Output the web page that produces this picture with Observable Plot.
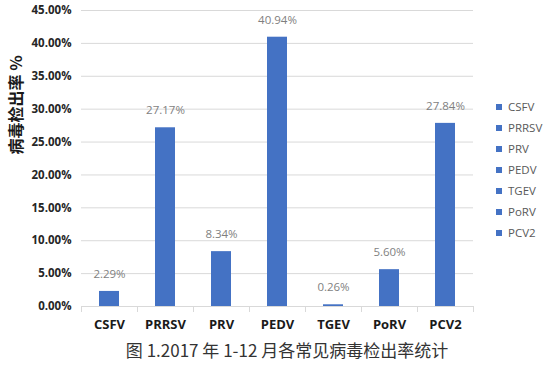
<!DOCTYPE html>
<html>
<head>
<meta charset="utf-8">
<script src="https://cdn.jsdelivr.net/npm/d3@7"></script>
<script src="https://cdn.jsdelivr.net/npm/@observablehq/plot@0.6"></script>
<style>
  html, body { margin: 0; padding: 0; background: #fff; }
  #wrap { position: relative; width: 550px; height: 368px; overflow: hidden; }
  #caption { position: absolute; left: 0; width: 574px; top: 338px; text-align: center;
    font-family: "Noto Sans CJK SC", sans-serif; font-size: 17px; color: #333; line-height: 24px; }
  #legend { position: absolute; left: 496px; top: 99px; font-family: "Open Sans", sans-serif;
    font-size: 11.5px; color: #595959; }
  #legend div { height: 21px; line-height: 16px; white-space: nowrap; }
  #legend span.sw { display: inline-block; width: 6px; height: 6px; background: #4472C4; margin-right: 6px; vertical-align: 1px; }
</style>
</head>
<body>
<div id="wrap"><div id="chart"></div><div id="legend"></div><div id="caption"></div></div>
<script>
const categories = ["CSFV", "PRRSV", "PRV", "PEDV", "TGEV", "PoRV", "PCV2"];
const rates = [0.0229, 0.2717, 0.0834, 0.4094, 0.0026, 0.0560, 0.2784];
const yTicks = [0, 0.05, 0.10, 0.15, 0.20, 0.25, 0.30, 0.35, 0.40, 0.45];
const yTitle = "病毒检出率 %";
const caption = "图 1.2017 年 1-12 月各常见病毒检出率统计";

const data = categories.map((c, i) => ({cat: c, rate: rates[i]}));
const pct = d3.format(".2%");
const barColor = "#4472C4";

// x-axis separators between bands, computed from the band scale
function separators(index, scales, values, dims) {
  const g = d3.create("svg:g");
  const x = scales.x;
  const step = x.step(), bw = x.bandwidth();
  const y0 = scales.y(0);
  const xs = categories.map(c => x(c) - (step - bw) / 2);
  xs.push(x(categories[categories.length - 1]) + bw + (step - bw) / 2);
  g.append("line").attr("x1", xs[0]).attr("x2", xs[xs.length - 1])
    .attr("y1", y0 + 0.5).attr("y2", y0 + 0.5).attr("stroke", "#d9d9d9");
  for (const xv of xs) {
    g.append("line").attr("x1", xv + 0.5).attr("x2", xv + 0.5)
      .attr("y1", y0).attr("y2", y0 + 6).attr("stroke", "#d9d9d9");
  }
  return g.node();
}

const plot = Plot.plot({
  width: 550,
  height: 338,
  marginLeft: 81,
  marginRight: 77,
  marginTop: 10,
  marginBottom: 32,
  style: {background: "#fff"},
  x: {domain: categories, paddingInner: 0.64, paddingOuter: 0.32},
  y: {domain: [0, 0.45]},
  marks: [
    Plot.gridY(yTicks.filter(t => t > 0), {stroke: "#d9d9d9", strokeOpacity: 1}),
    Plot.axisY(yTicks, {tickFormat: pct, tickSize: 0, tickPadding: 10, label: null,
      fontFamily: "Open Sans, sans-serif", fontWeight: "bold", fontSize: 11.5, fill: "#262626"}),
    Plot.axisX({tickSize: 0, tickPadding: 13, label: null,
      fontFamily: "Open Sans, sans-serif", fontWeight: "bold", fontSize: 13, fill: "#1a1a1a"}),
    Plot.barY(data, {x: "cat", y: "rate", fill: barColor}),
    separators,
    Plot.text(data, {x: "cat", y: "rate", text: d => pct(d.rate), dy: -17,
      fontFamily: "Open Sans, sans-serif", fontSize: 11.5, fill: "#7f7f7f"}),
    Plot.text([yTitle], {frameAnchor: "left", rotate: -90, dx: -65, dy: -4,
      fontFamily: "Noto Sans CJK SC, sans-serif", fontWeight: "bold", fontSize: 16, fill: "#1a1a1a"})
  ]
});
document.getElementById("chart").appendChild(plot);

const legend = document.getElementById("legend");
for (const c of categories) {
  const row = document.createElement("div");
  const sw = document.createElement("span"); sw.className = "sw";
  row.appendChild(sw);
  row.appendChild(document.createTextNode(c));
  legend.appendChild(row);
}
document.getElementById("caption").textContent = caption;
</script>
</body>
</html>
